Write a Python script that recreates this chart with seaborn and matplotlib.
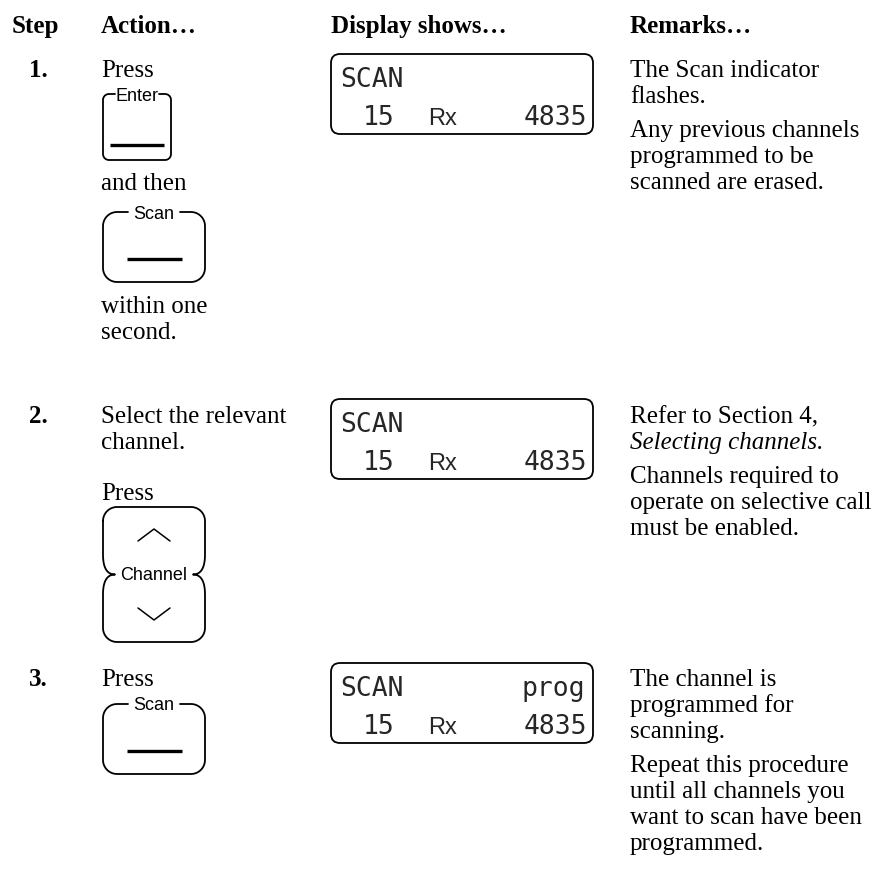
import numpy as np
import matplotlib
matplotlib.use("Agg")
import matplotlib.pyplot as plt
from matplotlib.patches import FancyBboxPatch
import seaborn as sns

# table content
headers = ["Step", "Action\u2026", "Display shows\u2026", "Remarks\u2026"]
step_labels = ["1.", "2.", "3."]

action_1a = ["Press"]
action_1b = ["and then"]
action_1c = ["within one", "second."]
action_2a = ["Select the relevant", "channel."]
action_2b = ["Press"]
action_3a = ["Press"]

key_labels = ["Enter", "Scan", "Channel", "Scan"]

display_top = ["SCAN", "SCAN", "SCAN"]
display_flag = ["", "", "prog"]
display_chan = ["15", "15", "15"]
display_mode = ["Rx", "Rx", "Rx"]
display_freq = ["4835", "4835", "4835"]

remarks = [
    [["The Scan indicator", "flashes."],
     ["Any previous channels", "programmed to be", "scanned are erased."]],
    [["Refer to Section 4,", "Selecting channels."],
     ["Channels required to", "operate on selective call", "must be enabled."]],
    [["The channel is", "programmed for", "scanning."],
     ["Repeat this procedure", "until all channels you", "want to scan have been",
      "programmed."]],
]
italic_lines = {"Selecting channels."}

sns.set_theme(style="white")
plt.rcParams["font.family"] = ["Liberation Serif", "DejaVu Serif"]

SERIF = "Liberation Serif"
SANS = "Liberation Sans"
MONO = "DejaVu Sans Mono"
FS = 18
LINE = 26
PARA = 8
LW = 1.3

fig = plt.figure(figsize=(8.93, 8.95), dpi=100)
ax = fig.add_axes([0, 0, 1, 1])
ax.set_xlim(0, 893)
ax.set_ylim(895, 0)
ax.axis("off")

COL_STEP, COL_ACT, COL_DISP, COL_REM = 48, 101, 331, 630
BASE = 8  # baseline offset from text middle


def put(x, y, s, **kw):
    kw.setdefault("family", SERIF)
    kw.setdefault("fontsize", FS)
    ax.text(x, y + BASE, s, va="baseline", color="black", **kw)


def put_lines(x, y, lines):
    for i, s in enumerate(lines):
        put(x, y + i * LINE, s)
    return y + len(lines) * LINE


def arc(cx, cy, r, a0, a1, n=12):
    t = np.radians(np.linspace(a0, a1, n))
    return list(cx + r * np.cos(t)), list(cy + r * np.sin(t))


def bezier(p0, p1, p2, n=14):
    t = np.linspace(0, 1, n)
    xs = (1 - t) ** 2 * p0[0] + 2 * (1 - t) * t * p1[0] + t ** 2 * p2[0]
    ys = (1 - t) ** 2 * p0[1] + 2 * (1 - t) * t * p1[1] + t ** 2 * p2[1]
    return list(xs), list(ys)


def draw_key(x0, y0, x1, y1, r, label, half, bar_y=None, bar_x=None):
    cx = (x0 + x1) / 2
    ax.text(cx, y0 + 1, label, family=SANS, fontsize=13,
            ha="center", va="center", color="black")
    xs, ys = [cx + half], [y0]
    xs.append(x1 - r); ys.append(y0)
    a, b = arc(x1 - r, y0 + r, r, -90, 0); xs += a; ys += b
    a, b = arc(x1 - r, y1 - r, r, 0, 90); xs += a; ys += b
    a, b = arc(x0 + r, y1 - r, r, 90, 180); xs += a; ys += b
    a, b = arc(x0 + r, y0 + r, r, 180, 270); xs += a; ys += b
    xs.append(cx - half); ys.append(y0)
    ax.plot(xs, ys, color="black", lw=LW, solid_capstyle="round")
    if bar_y is not None:
        ax.plot(bar_x, [bar_y, bar_y], color="black", lw=2.4, solid_capstyle="butt")


def draw_channel_key(x0, y0, x1, y1, r, label):
    mid = (y0 + y1) / 2
    tip = 12
    xs, ys = [], []
    a, b = arc(x0 + r, y0 + r, r, 180, 270); xs += a; ys += b
    a, b = arc(x1 - r, y0 + r, r, -90, 0); xs += a; ys += b
    for seg in [((x1, mid - 20), (x1, mid), (x1 - tip, mid)),
                ((x1 - tip, mid), (x1, mid), (x1, mid + 20))]:
        a, b = bezier(*seg); xs += a; ys += b
    a, b = arc(x1 - r, y1 - r, r, 0, 90); xs += a; ys += b
    a, b = arc(x0 + r, y1 - r, r, 90, 180); xs += a; ys += b
    for seg in [((x0, mid + 20), (x0, mid), (x0 + tip, mid)),
                ((x0 + tip, mid), (x0, mid), (x0, mid - 20))]:
        a, b = bezier(*seg); xs += a; ys += b
    xs.append(xs[0]); ys.append(ys[0])
    ax.plot(xs, ys, color="black", lw=LW)
    ax.text((x0 + x1) / 2, mid, label, family=SANS, fontsize=13,
            ha="center", va="center", color="black")
    cx = (x0 + x1) / 2
    ax.plot([cx - 16, cx, cx + 16], [y0 + 34, y0 + 22, y0 + 34], color="black", lw=1.1)
    ax.plot([cx - 16, cx, cx + 16], [y1 - 34, y1 - 22, y1 - 34], color="black", lw=1.1)


def draw_display(i, y0):
    x0, x1 = COL_DISP, 593
    h = 80
    box = FancyBboxPatch((x0, y0), x1 - x0, h, boxstyle="round,pad=0,rounding_size=9",
                         fc="none", ec="black", lw=LW)
    ax.add_patch(box)
    l1, l2 = y0 + 32, y0 + 70
    ax.text(x0 + 9, l1, display_top[i], family=MONO, fontsize=19, va="baseline")
    if display_flag[i]:
        ax.text(x1 - 8, l1, display_flag[i], family=MONO, fontsize=19, va="baseline", ha="right")
    ax.text(x0 + 32, l2, display_chan[i], family=MONO, fontsize=19, va="baseline")
    ax.text(x0 + 97, l2, display_mode[i], family=SANS, fontsize=17, va="baseline")
    ax.text(x1 - 6, l2, display_freq[i], family=MONO, fontsize=19, va="baseline", ha="right")


def draw_remarks(paras, y):
    for p in paras:
        for s in p:
            put(COL_REM, y, s, style="italic" if s in italic_lines else "normal")
            y += LINE
        y += PARA


# header row
y_head = 25
put(12, y_head, headers[0], weight="bold")
put(COL_ACT, y_head, headers[1], weight="bold")
put(COL_DISP, y_head, headers[2], weight="bold")
put(COL_REM, y_head, headers[3], weight="bold")

row_y = [69, 415, 678]
for i, y in enumerate(row_y):
    put(COL_STEP, y, step_labels[i], weight="bold", ha="right")

# step 1
y = row_y[0]
put_lines(COL_ACT, y, action_1a)
draw_key(103, 95, 171, 161, 6, key_labels[0], 22, bar_y=146, bar_x=[110, 164])
put_lines(COL_ACT, 182, action_1b)
draw_key(103, 213, 205, 283, 14, key_labels[1], 26, bar_y=260, bar_x=[127, 182])
put_lines(COL_ACT, 305, action_1c)
draw_display(0, 55)
draw_remarks(remarks[0], y)

# step 2
y = row_y[1]
put_lines(COL_ACT, y, action_2a)
put_lines(COL_ACT, 492, action_2b)
draw_channel_key(103, 508, 205, 643, 14, key_labels[2])
draw_display(1, 400)
draw_remarks(remarks[1], y)

# step 3
y = row_y[2]
put_lines(COL_ACT, y, action_3a)
draw_key(103, 705, 205, 775, 14, key_labels[3], 26, bar_y=752, bar_x=[127, 182])
draw_display(2, 664)
draw_remarks(remarks[2], y)

fig.savefig("out.png", dpi=100, facecolor="white")
